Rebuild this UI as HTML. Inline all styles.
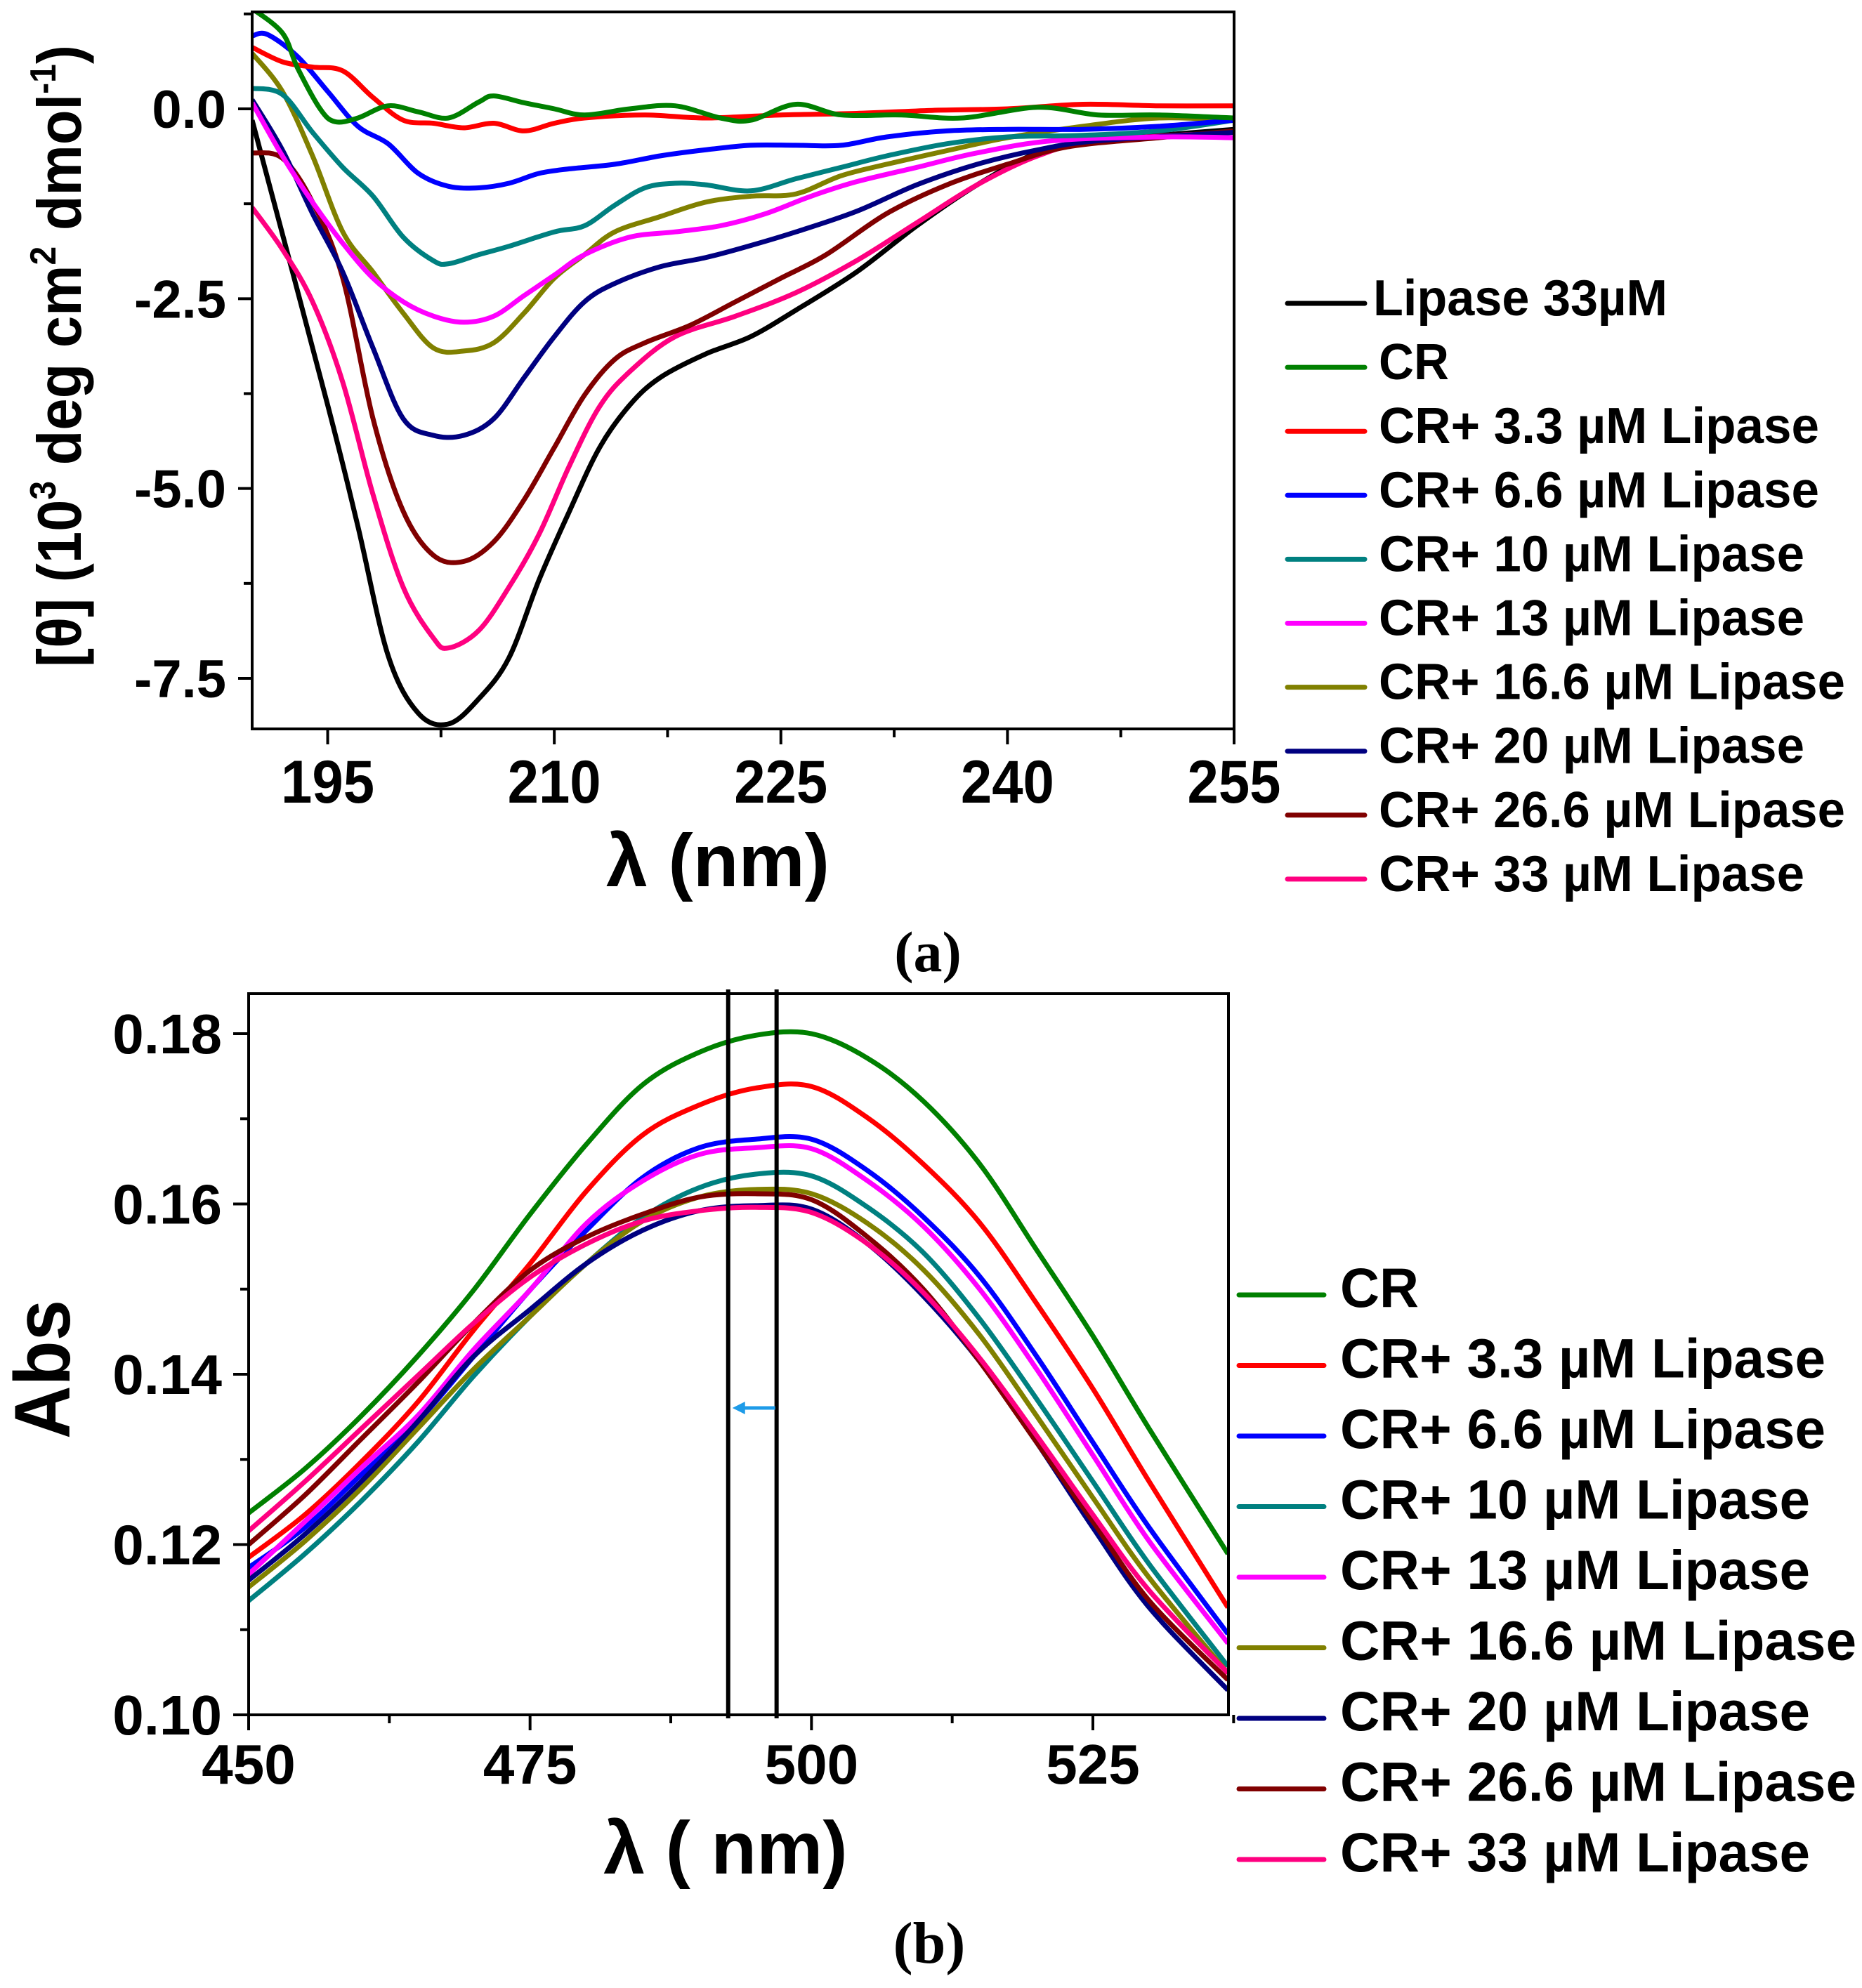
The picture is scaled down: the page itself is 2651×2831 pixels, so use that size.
<!DOCTYPE html>
<html><head><meta charset="utf-8"><style>
html,body{margin:0;padding:0;background:#fff;}
svg{display:block;font-family:"Liberation Sans",Arial,sans-serif;font-weight:bold;}
</style></head><body>
<svg id="fig" width="2651" height="2831" viewBox="0 0 2651 2831" xmlns="http://www.w3.org/2000/svg">
<g id="gA"></g>
<g id="gB"></g>
<text x="1321" y="1383" font-family="Liberation Serif, serif" font-size="82" text-anchor="middle">(a)</text>
<text x="1323" y="2795" font-family="Liberation Serif, serif" font-size="84" text-anchor="middle">(b)</text>
</svg>
<script>
// ---------- Panel A data ----------
const aSeriesNames = ["Lipase 33µM","CR","CR+ 3.3 µM Lipase","CR+ 6.6 µM Lipase","CR+ 10 µM Lipase","CR+ 13 µM Lipase","CR+ 16.6 µM Lipase","CR+ 20 µM Lipase","CR+ 26.6 µM Lipase","CR+ 33 µM Lipase"];
const aColors = ["#000000","#008000","#ff0000","#0000ff","#008080","#ff00ff","#808000","#000080","#800000","#ff0080"];
const aXTicks = [195,210,225,240,255];
const aYTicks = [0.0,-2.5,-5.0,-7.5];
const aYTickLabels = ["0.0","-2.5","-5.0","-7.5"];
const aBlackX = [190,195,197,199,201,203,205,207,209,211,213,215,217,220,223,226,230,234,238,242,246,250,255];
const aBlackY = [-0.15,-3.9,-5.5,-7.2,-7.96,-8.1,-7.77,-7.23,-6.2,-5.3,-4.46,-3.9,-3.54,-3.23,-3.0,-2.65,-2.15,-1.54,-1.0,-0.58,-0.42,-0.35,-0.27];
const aGreenX = [190,192,193,194.5,195.5,197,199,201,203,205,206,208,210,212,215,218,221,223,226,229,233,237,242,246,250,255];
const aGreenY = [1.32,1.0,0.54,0,-0.17,-0.12,0.04,-0.04,-0.12,0.09,0.17,0.08,0,-0.08,0,0.04,-0.12,-0.15,0.06,-0.08,-0.08,-0.12,0.02,-0.08,-0.08,-0.12];
const aRedX = [190,192,194,196,198,200,202,204,206,208,210,212,216,220,225,230,235,240,245,250,255];
const aRedY = [0.81,0.62,0.55,0.5,0.15,-0.15,-0.19,-0.25,-0.19,-0.29,-0.19,-0.12,-0.08,-0.12,-0.08,-0.06,-0.02,0,0.06,0.04,0.04];
const aBlueX = [190,191,193,195,197,199,201,203,205,207,209,211,214,217,220,223,226,229,232,236,240,245,250,255];
const aBlueY = [0.96,0.98,0.69,0.23,-0.23,-0.46,-0.85,-1.02,-1.04,-0.98,-0.85,-0.79,-0.73,-0.62,-0.54,-0.48,-0.48,-0.48,-0.37,-0.29,-0.27,-0.27,-0.23,-0.15];
const aTealX = [190,192,194,196,198,200,202,203,205,207,210,212,214,216,218,220,223,226,229,232,236,240,245,250,255];
const aTealY = [0.27,0.19,-0.31,-0.77,-1.15,-1.69,-2.0,-2.04,-1.92,-1.81,-1.62,-1.54,-1.27,-1.04,-0.98,-1.0,-1.08,-0.92,-0.77,-0.62,-0.46,-0.37,-0.35,-0.29,-0.15];
const aMagX = [190,192,194,196,198,200,202,204,206,208,210,212,215,218,221,224,227,230,234,238,243,250,255];
const aMagY = [0.08,-0.62,-1.23,-1.77,-2.23,-2.54,-2.73,-2.81,-2.73,-2.46,-2.19,-1.92,-1.69,-1.62,-1.54,-1.38,-1.15,-0.96,-0.77,-0.58,-0.42,-0.37,-0.38];
const aOliveX = [190,192,194,196,198,200,202,204,206,208,210,212,214,217,220,223,226,229,232,236,240,245,250,255];
const aOliveY = [0.73,0.23,-0.62,-1.62,-2.15,-2.69,-3.15,-3.19,-3.08,-2.69,-2.23,-1.92,-1.62,-1.42,-1.23,-1.15,-1.12,-0.88,-0.73,-0.55,-0.38,-0.23,-0.12,-0.15];
const aNavyX = [190,192,194,196,198,200,202,204,206,208,210,212,214,217,220,223,226,230,234,238,242,246,255];
const aNavyY = [0.12,-0.54,-1.38,-2.15,-3.15,-4.08,-4.3,-4.3,-4.08,-3.54,-3.0,-2.54,-2.3,-2.08,-1.96,-1.8,-1.62,-1.35,-1.0,-0.73,-0.54,-0.42,-0.31];
const aMaroonX = [190,192,194,196,198,200,202,204,206,208,210,212,214,216,219,222,225,228,232,236,240,244,250,255];
const aMaroonY = [-0.58,-0.65,-1.23,-2.23,-4.08,-5.3,-5.88,-5.96,-5.7,-5.15,-4.46,-3.77,-3.3,-3.08,-2.85,-2.54,-2.23,-1.92,-1.38,-1.0,-0.73,-0.5,-0.38,-0.29];
const aPinkX = [190,192,194,196,198,200,202,203,205,207,209,211,213,215,218,222,226,230,234,238,242,246,255];
const aPinkY = [-1.3,-1.85,-2.54,-3.6,-5.08,-6.3,-6.97,-7.1,-6.87,-6.3,-5.6,-4.7,-3.92,-3.46,-3.0,-2.73,-2.42,-2.0,-1.5,-1.0,-0.62,-0.42,-0.31];

// ---------- Panel B data ----------
const bSeriesNames = ["CR","CR+ 3.3 µM Lipase","CR+ 6.6 µM Lipase","CR+ 10 µM Lipase","CR+ 13 µM Lipase","CR+ 16.6 µM Lipase","CR+ 20 µM Lipase","CR+ 26.6 µM Lipase","CR+ 33 µM Lipase"];
const bColors = ["#008000","#ff0000","#0000ff","#008080","#ff00ff","#808000","#000080","#800000","#ff0080"];
const bXTicks = [450,475,500,525];
const bYTicks = [0.10,0.12,0.14,0.16,0.18];
const bYTickLabels = ["0.10","0.12","0.14","0.16","0.18"];
const bX = [450,455,460,465,470,475,480,485,490,495,500,505,510,515,520,525,530,537];
const bGreen = [0.1237,0.1289,0.1351,0.1421,0.1499,0.1588,0.1670,0.1740,0.1778,0.1798,0.1800,0.1771,0.1720,0.1646,0.1546,0.1445,0.1336,0.1189];
const bRed = [0.1185,0.1235,0.1297,0.1367,0.1452,0.1530,0.1615,0.1681,0.1716,0.1736,0.1738,0.1701,0.1646,0.1577,0.1483,0.1383,0.1274,0.1126];
const bBlue = [0.1173,0.1220,0.1282,0.1344,0.1421,0.1499,0.1569,0.1631,0.1666,0.1676,0.1676,0.1639,0.1584,0.1514,0.1421,0.1320,0.1220,0.1095];
const bTeal = [0.1134,0.1189,0.1251,0.1320,0.1398,0.1468,0.1530,0.1584,0.1619,0.1635,0.1633,0.1596,0.1542,0.1464,0.1371,0.1274,0.1177,0.1057];
const bMag = [0.1165,0.1227,0.1290,0.1351,0.1429,0.1499,0.1577,0.1627,0.1658,0.1666,0.1665,0.1627,0.1573,0.1499,0.1406,0.1305,0.1204,0.1084];
const bOlive = [0.1150,0.1204,0.1266,0.1336,0.1406,0.1468,0.1530,0.1580,0.1608,0.1617,0.1612,0.1577,0.1522,0.1445,0.1351,0.1255,0.1161,0.1049];
const bNavy = [0.1158,0.1212,0.1274,0.1344,0.1421,0.1476,0.1530,0.1569,0.1592,0.1598,0.1594,0.1553,0.1491,0.1414,0.1320,0.1220,0.1126,0.1029];
const bMaroon = [0.1200,0.1258,0.1324,0.1390,0.1460,0.1522,0.1561,0.1588,0.1608,0.1612,0.1605,0.1561,0.1499,0.1414,0.1320,0.1227,0.1134,0.1041];
const bPink = [0.1216,0.1274,0.1336,0.1398,0.1460,0.1514,0.1553,0.1580,0.1592,0.1596,0.1590,0.1553,0.1495,0.1418,0.1328,0.1235,0.1146,0.1049];
const bMarkerLines = [492.6,496.9];

const NS = "http://www.w3.org/2000/svg";
function mk(parent, tag, attrs, txt){
  const e = document.createElementNS(NS, tag);
  for (const k in attrs) e.setAttribute(k, attrs[k]);
  if (txt !== undefined) e.textContent = txt;
  parent.appendChild(e); return e;
}
function lin(d0,d1,r0,r1){ return v => r0 + (v-d0)/(d1-d0)*(r1-r0); }
function pathD(xs, ys, sx, sy){
  const P = xs.map((x,i)=>[sx(x), sy(ys[i])]);
  let d = "M"+P[0][0].toFixed(1)+","+P[0][1].toFixed(1);
  for (let i=0;i<P.length-1;i++){
    const p0=P[Math.max(0,i-1)], p1=P[i], p2=P[i+1], p3=P[Math.min(P.length-1,i+2)];
    const c1=[p1[0]+(p2[0]-p0[0])/6, p1[1]+(p2[1]-p0[1])/6];
    const c2=[p2[0]-(p3[0]-p1[0])/6, p2[1]-(p3[1]-p1[1])/6];
    d += "C"+c1[0].toFixed(1)+","+c1[1].toFixed(1)+" "+c2[0].toFixed(1)+","+c2[1].toFixed(1)+" "+p2[0].toFixed(1)+","+p2[1].toFixed(1);
  }
  return d;
}

// ===== Panel A =====
const gA = document.getElementById("gA");
const aL=359, aR=1757, aT=17, aB=1038;
const ax = lin(190,255,aL,aR);
const ay = lin(0,-7.5,155,966);
const defs = mk(document.getElementById("fig"),"defs",{});
const cpA = mk(defs,"clipPath",{id:"clipA"}); mk(cpA,"rect",{x:aL,y:aT,width:aR-aL,height:aB-aT});
const cpB = mk(defs,"clipPath",{id:"clipB"});
const aSeriesX = [aBlackX,aGreenX,aRedX,aBlueX,aTealX,aMagX,aOliveX,aNavyX,aMaroonX,aPinkX];
const aSeriesY = [aBlackY,aGreenY,aRedY,aBlueY,aTealY,aMagY,aOliveY,aNavyY,aMaroonY,aPinkY];
const aDrawOrder = [0,9,8,7,6,5,4,3,2,1];
const aPlot = mk(gA,"g",{"clip-path":"url(#clipA)"});


aDrawOrder.forEach(i=>{
  const p = mk(aPlot,"path",{d:pathD(aSeriesX[i],aSeriesY[i],ax,ay),fill:"none",stroke:aColors[i],"stroke-width":7,"stroke-linejoin":"round"});
  
  
});
const frA = mk(gA,"rect",{x:aL,y:aT,width:aR-aL,height:aB-aT,fill:"none",stroke:"#000","stroke-width":4});


aXTicks.forEach(v=>{
  const X = ax(v);
  const t = mk(gA,"line",{x1:X,y1:aB,x2:X,y2:aB+22,stroke:"#000","stroke-width":4});
  
  
  if (v-7.5 >= 190){
    const m = mk(gA,"line",{x1:ax(v-7.5),y1:aB,x2:ax(v-7.5),y2:aB+12,stroke:"#000","stroke-width":4});
    
    
  }
  const lb = mk(gA,"text",{x:X,y:1143,"font-size":86,"text-anchor":"middle",textLength:133,lengthAdjust:"spacingAndGlyphs"},String(v));
  
  
});
aYTicks.forEach((v,i)=>{
  const Y = ay(v);
  const t = mk(gA,"line",{x1:aL-20,y1:Y,x2:aL,y2:Y,stroke:"#000","stroke-width":4});
  
  
  const m = mk(gA,"line",{x1:aL-12,y1:ay(v+1.25),x2:aL,y2:ay(v+1.25),stroke:"#000","stroke-width":4});
  
  
  const lb = mk(gA,"text",{x:322,y:Y+27,"font-size":76,"text-anchor":"end"},aYTickLabels[i]);
  
  
});
const axA = mk(gA,"text",{x:1022,y:1262,"font-size":106,"text-anchor":"middle"},"λ  (nm)");


const ytA = mk(gA,"text",{transform:"translate(115,507) rotate(-90)","font-size":88,"text-anchor":"middle",textLength:886,lengthAdjust:"spacingAndGlyphs"});


ytA.innerHTML = '[θ] (10<tspan dy="-36" font-size="52">3</tspan><tspan dy="36"> deg cm</tspan><tspan dy="-36" font-size="52">2</tspan><tspan dy="36"> dmol</tspan><tspan dy="-36" font-size="52">-1</tspan><tspan dy="36">)</tspan>';
const aLegTL = [419,100,627,627,606,606,664,606,664,606];
aSeriesNames.forEach((n,i)=>{
  const Y = 432 + i*91.1;
  const g = mk(gA,"g",{});
  
  
  mk(g,"line",{x1:1833,y1:Y,x2:1943,y2:Y,stroke:aColors[i],"stroke-width":7,"stroke-linecap":"round"});
  mk(g,"text",{x:i===0?1955:1963,y:Y+17,"font-size":72,textLength:aLegTL[i],lengthAdjust:"spacingAndGlyphs"},n);
});

// ===== Panel B =====
const gB = document.getElementById("gB");
const bL=354, bR=1749, bT=1415, bB=2442;
const bx = lin(450,525,bL,1556);
const by = lin(0.10,0.18,bB,1472);
mk(cpB,"rect",{x:bL,y:bT,width:bR-bL,height:bB-bT});
const bSeries = [bGreen,bRed,bBlue,bTeal,bMag,bOlive,bNavy,bMaroon,bPink];
const bPlot = mk(gB,"g",{"clip-path":"url(#clipB)"});


bSeries.forEach((s,i)=>{
  const p = mk(bPlot,"path",{d:pathD(bX,s,bx,by),fill:"none",stroke:bColors[i],"stroke-width":7,"stroke-linejoin":"round"});
  
  
});
bMarkerLines.forEach(v=>{
  const l = mk(gB,"line",{x1:bx(v),y1:bT-6,x2:bx(v),y2:bB+5,stroke:"#000","stroke-width":6});
  
  
});
const arr = mk(gB,"g",{});


mk(arr,"line",{x1:bx(bMarkerLines[1])-2,y1:2005,x2:bx(bMarkerLines[0])+18,y2:2005,stroke:"#1e9be8","stroke-width":5});
mk(arr,"polygon",{points:(bx(bMarkerLines[0])+6)+",2005 "+(bx(bMarkerLines[0])+24)+",1996 "+(bx(bMarkerLines[0])+24)+",2014",fill:"#1e9be8"});
const frB = mk(gB,"rect",{x:bL,y:bT,width:bR-bL,height:bB-bT,fill:"none",stroke:"#000","stroke-width":4});


bXTicks.forEach(v=>{
  const X = bx(v);
  const t = mk(gB,"line",{x1:X,y1:bB,x2:X,y2:bB+22,stroke:"#000","stroke-width":4});
  
  
  const m = mk(gB,"line",{x1:bx(v+12.5),y1:bB,x2:bx(v+12.5),y2:bB+12,stroke:"#000","stroke-width":4});
  
  
  const lb = mk(gB,"text",{x:X,y:2540,"font-size":80,"text-anchor":"middle"},String(v));
  
  
});
bYTicks.forEach((v,i)=>{
  const Y = by(v);
  const t = mk(gB,"line",{x1:bL-22,y1:Y,x2:bL,y2:Y,stroke:"#000","stroke-width":4});
  
  
  if (i < bYTicks.length-1){
    const m = mk(gB,"line",{x1:bL-12,y1:by(v+0.01),x2:bL,y2:by(v+0.01),stroke:"#000","stroke-width":4});
    
    
  }
  const lb = mk(gB,"text",{x:316,y:Y+28,"font-size":80,"text-anchor":"end"},bYTickLabels[i]);
  
  
});
const axB = mk(gB,"text",{x:1033,y:2668,"font-size":106,"text-anchor":"middle"},"λ ( nm)");


const ytB = mk(gB,"text",{transform:"translate(99,1950) rotate(-90)","font-size":112,"text-anchor":"middle",textLength:198,lengthAdjust:"spacingAndGlyphs"},"Abs");


const bLegTL = [112,691,691,669,669,735,669,735,669];
bSeriesNames.forEach((n,i)=>{
  const Y = 1844 + i*100.5;
  const g = mk(gB,"g",{});
  
  
  mk(g,"line",{x1:1764,y1:Y,x2:1885,y2:Y,stroke:bColors[i],"stroke-width":7,"stroke-linecap":"round"});
  mk(g,"text",{x:1908,y:Y+17,"font-size":79,textLength:bLegTL[i],lengthAdjust:"spacingAndGlyphs"},n);
});
</script>
</body></html>
